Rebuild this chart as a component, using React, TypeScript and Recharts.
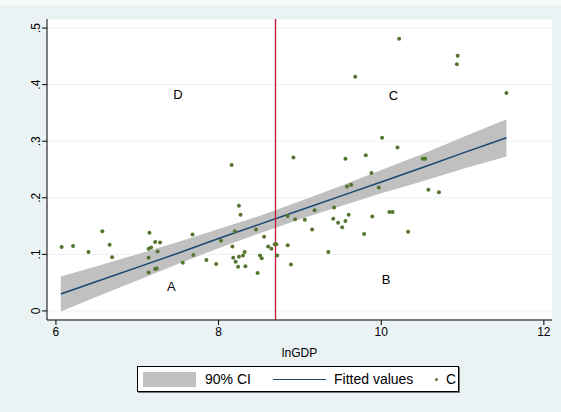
import React from "react";
import {
  ComposedChart,
  Area,
  Line,
  Scatter,
  XAxis,
  YAxis,
  CartesianGrid,
  ReferenceLine,
} from "recharts";

// scatter points
const lnGDP = [
  6.07, 6.21, 6.57, 6.4, 6.66, 6.69, 7.15, 7.22, 7.28, 7.14, 7.17, 7.25, 7.14, 7.22, 7.24, 7.14,
  7.68, 8.2, 8.03, 8.46, 8.56, 8.17, 7.69, 7.56, 7.85, 7.97, 8.18, 8.25, 8.3, 8.32, 8.21, 8.24,
  8.33, 8.48, 8.51, 8.53, 8.61, 8.65, 8.69, 8.71, 8.72, 8.16, 8.25, 8.27, 8.85, 9.18, 9.42, 8.94,
  9.06, 9.15, 9.41, 9.47, 9.56, 9.6, 9.52, 9.79, 9.89, 10.1, 10.14, 8.85, 9.35, 8.89, 8.92, 9.56,
  9.81, 9.88, 9.58, 9.63, 9.97, 10.51, 10.54, 10.58, 10.71, 10.33, 10.2, 10.22, 10.94, 10.93, 9.68,
  11.54, 10.01,
];
const cValues = [
  0.113, 0.115, 0.141, 0.104, 0.117, 0.095, 0.138, 0.122, 0.121, 0.11, 0.112, 0.105, 0.094, 0.074,
  0.075, 0.068, 0.135, 0.141, 0.124, 0.144, 0.131, 0.114, 0.099, 0.085, 0.09, 0.083, 0.094, 0.096,
  0.098, 0.104, 0.087, 0.078, 0.079, 0.067, 0.098, 0.093, 0.114, 0.11, 0.118, 0.118, 0.098, 0.258,
  0.186, 0.17, 0.168, 0.178, 0.183, 0.162, 0.161, 0.144, 0.163, 0.156, 0.159, 0.17, 0.148, 0.136,
  0.167, 0.175, 0.175, 0.116, 0.104, 0.082, 0.271, 0.269, 0.275, 0.244, 0.22, 0.223, 0.218, 0.269,
  0.269, 0.214, 0.21, 0.14, 0.289, 0.481, 0.451, 0.436, 0.414, 0.385, 0.306,
];

// fitted line and 90% CI band
const fitX = [6.06, 6.5, 7, 7.5, 8, 8.5, 9, 9.5, 10, 10.5, 11, 11.54];
const fitted = [0.03, 0.052, 0.077, 0.102, 0.128, 0.153, 0.178, 0.203, 0.228, 0.253, 0.279, 0.306];
const ciLow = [-0.001, 0.025, 0.054, 0.083, 0.111, 0.137, 0.162, 0.185, 0.208, 0.229, 0.251, 0.273];
const ciHigh = [0.061, 0.079, 0.1, 0.122, 0.145, 0.168, 0.194, 0.221, 0.249, 0.277, 0.307, 0.339];

const quadrantNames = ["D", "C", "A", "B"];
const quadrantX = [7.5, 10.15, 7.42, 10.06];
const quadrantY = [0.382, 0.381, 0.044, 0.055];

const xTicks = [6, 8, 10, 12];
const yTicks = [0, 0.1, 0.2, 0.3, 0.4, 0.5];
const cutoff = 8.7;

const fitData = fitX.map((x, i) => ({ x, fit: fitted[i], lo: ciLow[i], hi: ciHigh[i] }));
const points = lnGDP.map((x, i) => ({ x, y: cValues[i] }));
const labels = quadrantNames.map((name, i) => ({ x: quadrantX[i], y: quadrantY[i], name }));

const FONT = '"Liberation Sans", Arial, sans-serif';
const NAVY = "#1a476f";
const GREEN = "#55752f";
const BAND = "#c0c0c0";

const fmtY = (v: number) => (v === 0 ? "0" : String(v).replace(/^0/, ""));

function YTick({ x, y, payload }: any) {
  return (
    <text
      x={x}
      y={y}
      transform={`rotate(-90, ${x}, ${y})`}
      textAnchor="middle"
      fontSize={12}
      fontFamily={FONT}
      fill="#000"
    >
      {fmtY(payload.value)}
    </text>
  );
}

function QuadLabel({ cx, cy, payload }: any) {
  return (
    <text x={cx} y={cy} textAnchor="middle" dominantBaseline="central" fontSize={13} fontFamily={FONT} fill="#000">
      {payload.name}
    </text>
  );
}

function Dot({ cx, cy }: any) {
  return <circle cx={cx} cy={cy} r={2} fill={GREEN} />;
}

export default function App() {
  return (
    <div style={{ position: "absolute", left: 0, top: 0, width: 561, height: 412, background: "#f7f9f9" }}>
      <div style={{ position: "absolute", left: 0, top: 5, width: 561, height: 407, background: "#eaf2f3" }} />
      <div style={{ position: "absolute", left: 0, top: 0 }}>
        <ComposedChart
          width={561}
          height={412}
          data={fitData}
          margin={{ top: 19, right: 9, left: 0, bottom: 47 }}
        >
          <CartesianGrid vertical={false} stroke="#eaf2f3" fill="#fff" />
          <XAxis
            type="number"
            dataKey="x"
            domain={[5.89, 12.1]}
            ticks={xTicks}
            allowDataOverflow
            height={45}
            tickSize={5}
            stroke="#000"
            tick={{ fontSize: 12, fontFamily: FONT, fill: "#000" }}
            label={{ value: "lnGDP", position: "insideBottom", offset: 8, fontSize: 12, fontFamily: FONT, fill: "#000" }}
          />
          <YAxis
            type="number"
            domain={[-0.016, 0.516]}
            ticks={yTicks}
            allowDataOverflow
            width={47}
            tickSize={5}
            stroke="#000"
            tick={<YTick />}
          />
          <Area
            dataKey={(d: any) => [d.lo, d.hi]}
            type="linear"
            stroke="none"
            fill={BAND}
            fillOpacity={1}
            isAnimationActive={false}
          />
          <Line dataKey="fit" type="linear" stroke={NAVY} strokeWidth={1.5} dot={false} isAnimationActive={false} />
          <ReferenceLine x={cutoff} stroke="#c8143c" strokeWidth={1.3} />
          <Scatter data={points} dataKey="y" shape={<Dot />} isAnimationActive={false} />
          <Scatter data={labels} dataKey="y" shape={<QuadLabel />} isAnimationActive={false} />
        </ComposedChart>
      </div>
      <div
        style={{
          position: "absolute",
          left: 137,
          top: 366,
          width: 320,
          height: 24,
          background: "#fff",
          border: "1px solid #000",
          boxShadow: "1px 1px 0 #777",
          fontFamily: FONT,
          fontSize: 14,
          color: "#000",
        }}
      >
        <div style={{ position: "absolute", left: 5, top: 5, width: 53, height: 15, background: BAND }} />
        <div style={{ position: "absolute", left: 67, top: 3, lineHeight: "18px" }}>90% CI</div>
        <div style={{ position: "absolute", left: 135, top: 11.5, width: 53, height: 1.5, background: NAVY }} />
        <div style={{ position: "absolute", left: 196, top: 3, lineHeight: "18px" }}>Fitted values</div>
        <div style={{ position: "absolute", left: 297, top: 11, width: 3, height: 3, borderRadius: 2, background: GREEN }} />
        <div style={{ position: "absolute", left: 308, top: 3, lineHeight: "18px" }}>C</div>
      </div>
    </div>
  );
}
